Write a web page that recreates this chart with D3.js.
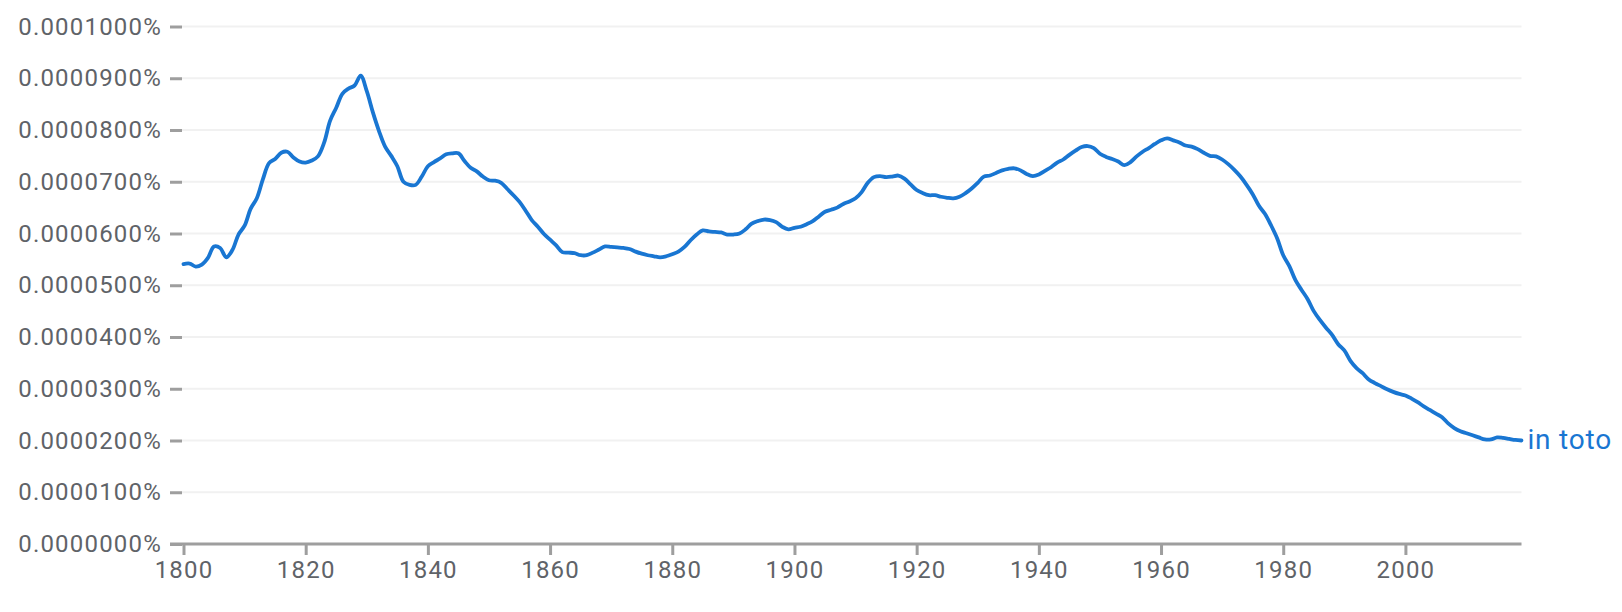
<!DOCTYPE html>
<html lang="en">
<head>
  <meta charset="utf-8">
  <title>in toto</title>
  <script src="https://d3js.org/d3.v7.min.js"></script>
  <style>
    body { margin: 0; background: #fff; }
    text { font-family: Roboto, "Open Sans", sans-serif; }
  </style>
</head>
<body>
<div id="my_dataviz"></div>

<script>

// years shown on the chart
var firstYear = 1800
var lastYear = 2019

// frequency of "in toto", in units of 0.000001%, one per year from 1800 to 2019
var freqE6 = [
  54.1, 54.2, 53.6, 54.0, 55.3, 57.5, 57.2, 55.4, 56.8, 59.8,
  61.5, 64.8, 66.8, 70.5, 73.6, 74.4, 75.6, 75.8, 74.7, 73.9,
  73.7, 74.1, 74.9, 77.5, 81.8, 84.3, 87.0, 88.0, 88.6, 90.5,
  87.5, 83.4, 79.8, 76.8, 75.0, 73.0, 70.0, 69.4, 69.4, 71.0,
  73.0, 73.8, 74.5, 75.3, 75.5, 75.5, 74.0, 72.7, 72.0, 71.0,
  70.3, 70.2, 69.8, 68.6, 67.4, 66.1, 64.4, 62.6, 61.3, 59.9,
  58.8, 57.7, 56.4, 56.3, 56.2, 55.8, 55.8, 56.3, 56.9, 57.5,
  57.4, 57.3, 57.2, 57.0, 56.5, 56.1, 55.8, 55.6, 55.4, 55.6,
  56.0, 56.5, 57.4, 58.7, 59.8, 60.6, 60.4, 60.3, 60.2, 59.8,
  59.8, 60.0, 60.8, 61.9, 62.4, 62.7, 62.6, 62.2, 61.3, 60.8,
  61.1, 61.3, 61.8, 62.4, 63.3, 64.2, 64.6, 65.0, 65.7, 66.2,
  66.8, 68.0, 69.8, 70.9, 71.1, 70.9, 71.0, 71.2, 70.6, 69.5,
  68.4, 67.8, 67.4, 67.4, 67.1, 66.9, 66.8, 67.1, 67.8, 68.7,
  69.8, 71.0, 71.2, 71.7, 72.2, 72.5, 72.6, 72.2, 71.5, 71.1,
  71.4, 72.1, 72.8, 73.7, 74.3, 75.2, 76.0, 76.7, 76.9, 76.5,
  75.4, 74.8, 74.4, 73.9, 73.2, 73.8, 74.9, 75.8, 76.5, 77.3,
  78.0, 78.4, 78.0, 77.6, 77.0, 76.8, 76.3, 75.6, 75.0, 74.9,
  74.3, 73.4, 72.3, 71.0, 69.4, 67.6, 65.4, 63.8, 61.6, 59.1,
  55.8, 53.7, 51.0, 49.1, 47.3, 45.0, 43.3, 41.8, 40.4, 38.6,
  37.4, 35.4, 34.0, 33.0, 31.8, 31.1, 30.5, 29.9, 29.4, 29.0,
  28.7, 28.1, 27.4, 26.6, 25.9, 25.2, 24.5, 23.3, 22.4, 21.8,
  21.4, 21.0, 20.6, 20.2, 20.2, 20.6, 20.5, 20.3, 20.1, 20.0
]

// axis ticks
var xTicks = [1800, 1820, 1840, 1860, 1880, 1900, 1920, 1940, 1960, 1980, 2000]
var yTicks = [0, 0.00001, 0.00002, 0.00003, 0.00004, 0.00005, 0.00006, 0.00007, 0.00008, 0.00009, 0.0001]

var seriesName = "in toto"

var width = 1622
var height = 612

var data = freqE6.map(function(v, i) {
  return { year: firstYear + i, value: v * 1e-6 }
})

var svg = d3.select("#my_dataviz")
  .append("svg")
    .attr("width", width)
    .attr("height", height)

var x = d3.scaleLinear()
  .domain([firstYear, lastYear])
  .range([183.5, 1521.5])

var y = d3.scaleLinear()
  .domain([0, 0.0001])
  .range([544, 26.5])

// horizontal grid lines
svg.append("g")
  .selectAll("line")
  .data(yTicks.slice(1))
  .enter()
  .append("line")
    .attr("x1", 182)
    .attr("x2", x(lastYear))
    .attr("y1", function(d){ return y(d) })
    .attr("y2", function(d){ return y(d) })
    .attr("stroke", "#f1f1f1")
    .attr("stroke-width", 2)

// y axis: short tick marks + labels, no domain line
var yAxis = svg.append("g")
  .attr("transform", "translate(182,0)")
  .call(d3.axisLeft(y)
    .tickValues(yTicks)
    .tickSize(12)
    .tickPadding(8)
    .tickFormat(function(d){ return d.toFixed(7) + "%" }))
yAxis.select(".domain").remove()
yAxis.selectAll(".tick line")
  .attr("stroke", "#9e9e9e")
  .attr("stroke-width", 3)
yAxis.selectAll(".tick text")
  .attr("fill", "#5f6368")
  .style("font-size", "24px")
  .style("letter-spacing", "1.2px")

// x axis
var xAxis = svg.append("g")
  .attr("transform", "translate(0," + y(0) + ")")
  .call(d3.axisBottom(x)
    .tickValues(xTicks)
    .tickSize(11)
    .tickSizeOuter(0)
    .tickPadding(6)
    .tickFormat(d3.format("d")))
xAxis.select(".domain")
  .attr("d", "M170,0H" + x(lastYear))
  .attr("stroke", "#9e9e9e")
  .attr("stroke-width", 3)
xAxis.selectAll(".tick line")
  .attr("stroke", "#9e9e9e")
  .attr("stroke-width", 3)
xAxis.selectAll(".tick text")
  .attr("fill", "#5f6368")
  .style("font-size", "24px")
  .style("letter-spacing", "1.2px")

// the series line (smooth curve through the yearly points)
var line = d3.line()
  .x(function(d){ return x(d.year) })
  .y(function(d){ return y(d.value) })
  .curve(d3.curveCatmullRom.alpha(0.5))

svg.append("path")
  .datum(data)
  .attr("fill", "none")
  .attr("stroke", "#1976d2")
  .attr("stroke-width", 3.8)
  .attr("stroke-linejoin", "round")
  .attr("stroke-linecap", "round")
  .attr("d", line)

// label at the end of the line
var last = data[data.length - 1]
svg.append("text")
  .attr("x", x(last.year) + 6)
  .attr("y", y(last.value))
  .attr("dy", "0.32em")
  .attr("fill", "#1976d2")
  .style("font-size", "28px")
  .style("letter-spacing", "0.8px")
  .text(seriesName)

</script>
</body>
</html>
